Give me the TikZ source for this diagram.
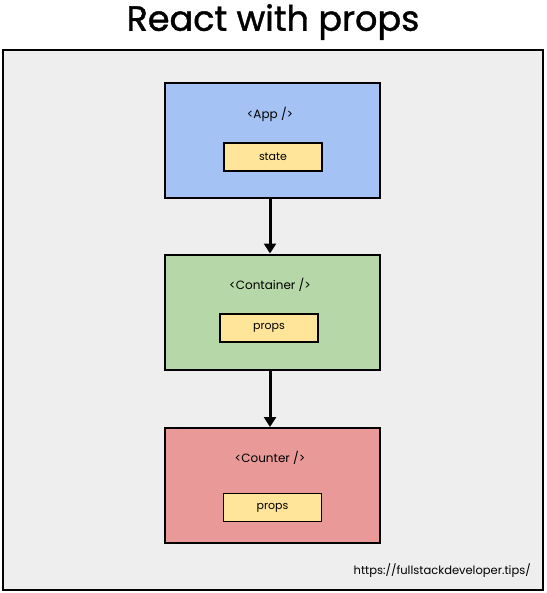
\documentclass[tikz,border=0pt]{standalone}
\usepackage{fontspec}
\setmainfont{Poppins}
\usetikzlibrary{arrows.meta}
\definecolor{bgc}{HTML}{EEEEEE}
\definecolor{bluec}{HTML}{A4C2F4}
\definecolor{greenc}{HTML}{B6D7A8}
\definecolor{redc}{HTML}{EA9999}
\definecolor{yellowc}{HTML}{FFE599}
\begin{document}
\begin{tikzpicture}[x=1pt,y=-1pt,
  comp/.style={draw=black,line width=2pt,minimum width=215pt,minimum height=115pt,inner sep=0pt},
  propbox/.style={draw=black,line width=1.8pt,fill=yellowc,minimum width=98pt,minimum height=28pt,inner sep=0pt,font=\fontsize{11}{13}\selectfont},
  lbl/.style={font=\fontsize{12}{14}\selectfont,inner sep=0pt},
  flow/.style={line width=3pt,-{Triangle[length=10pt,width=12pt]}}]
\useasboundingbox (0,0) rectangle (546,593);
\node[draw=black,line width=1.5pt,fill=bgc,minimum width=540pt,minimum height=540pt,inner sep=0pt] (frame) at (273,320) {};
\node[font=\fontsize{35}{40}\selectfont,inner sep=0pt] (title) at (273,22) {\addfontfeatures{FakeBold=1.2}React with props};
\node[comp,fill=bluec] (app) at (272.5,140.5) {};
\node[lbl] (applbl) at (270,114) {<App />};
\node[propbox] (state) at (273,157) {state};
\node[comp,fill=greenc] (cont) at (272.5,312) {};
\node[lbl] (contlbl) at (270,285) {<Container />};
\node[propbox] (props1) at (269,328) {props};
\node[comp,fill=redc] (count) at (272.5,485.5) {};
\node[lbl] (countlbl) at (270,458) {<Counter />};
\node[propbox] (props2) at (272.5,507.5) {props};
\draw[flow] (app.south -| 270,0) -- (cont.north -| 270,0);
\draw[flow] (cont.south -| 270,0) -- (count.north -| 270,0);
\node[font=\fontsize{11.5}{13}\selectfont,anchor=east,inner sep=0pt] (url) at (531,571) {https://fullstackdeveloper.tips/};
\end{tikzpicture}
\end{document}
